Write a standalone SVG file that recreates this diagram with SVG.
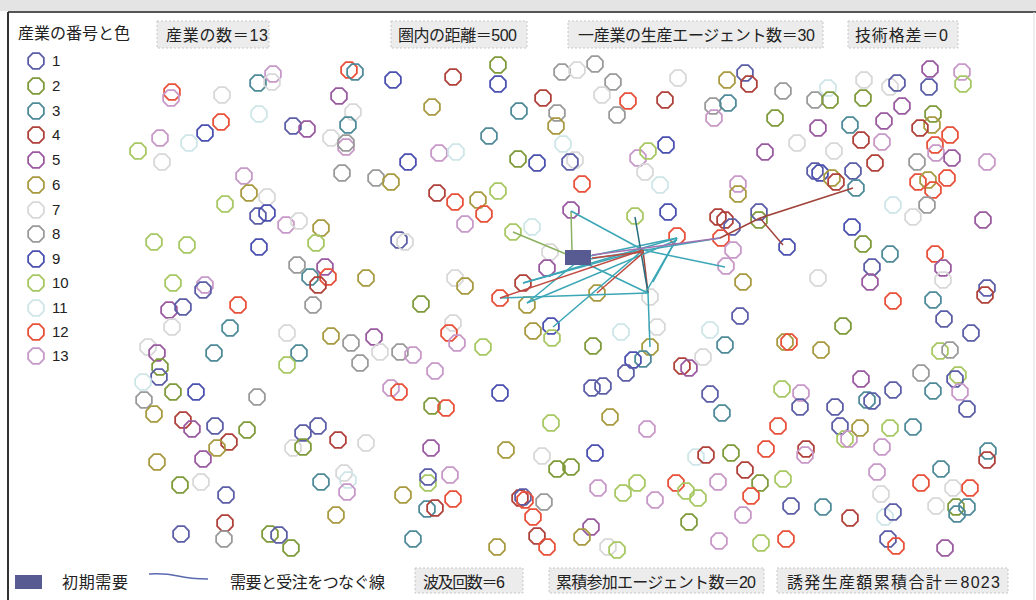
<svg xmlns="http://www.w3.org/2000/svg" width="1036" height="600" viewBox="0 0 1036 600">
<style>
text{font-family:"Liberation Sans","Noto Sans CJK JP",sans-serif;font-size:15px;fill:#222}
.lt{font-size:16px}
.lbl{fill:#ececec;stroke:#c8c8c8;stroke-dasharray:2 2}
use{fill:none;stroke-width:1.8}
.c1{stroke:#5b5ea6}.c2{stroke:#7f9a3a}.c3{stroke:#4f8a98}.c4{stroke:#b0403a}.c5{stroke:#9a5aa0}
.c6{stroke:#a89a40}.c7{stroke:#d8d8d8}.c8{stroke:#9a9a9a}.c9{stroke:#4a50b0}.c10{stroke:#a8c864}
.c11{stroke:#cfe6e8}.c12{stroke:#e8503a}.c13{stroke:#c898c8}
.t{stroke:#3aa6b6;stroke-width:1.5;fill:none}
.d{stroke:#2a6e7e;stroke-width:1.5;fill:none}
.r{stroke:#c04a40;stroke-width:1.5;fill:none}
.m{stroke:#a0443c;stroke-width:1.5;fill:none}
.g{stroke:#8ab060;stroke-width:1.5;fill:none}
</style>
<defs>
<path id="o" d="M-3.25,-7.85L3.25,-7.85L7.85,-3.25L7.85,3.25L3.25,7.85L-3.25,7.85L-7.85,3.25L-7.85,-3.25Z"/>
</defs>
<rect x="0" y="0" width="1036" height="600" fill="#fff"/>
<rect x="0" y="0" width="1036" height="11" fill="#e4e4e4"/>
<line x1="8" y1="12" x2="1036" y2="12" stroke="#555" stroke-width="2"/>
<line x1="8" y1="12" x2="8" y2="600" stroke="#333" stroke-width="2"/>
<line x1="1034" y1="12" x2="1034" y2="600" stroke="#ddd" stroke-width="1"/>

<g id="legend">
<text x="18" y="39" style="font-size:16px">産業の番号と色</text>
<use href="#o" x="36" y="61" class="c1"/><text x="52" y="66">1</text>
<use href="#o" x="36" y="86" class="c2"/><text x="52" y="91">2</text>
<use href="#o" x="36" y="111" class="c3"/><text x="52" y="116">3</text>
<use href="#o" x="36" y="135" class="c4"/><text x="52" y="140">4</text>
<use href="#o" x="36" y="160" class="c5"/><text x="52" y="165">5</text>
<use href="#o" x="36" y="185" class="c6"/><text x="52" y="190">6</text>
<use href="#o" x="36" y="210" class="c7"/><text x="52" y="215">7</text>
<use href="#o" x="36" y="234" class="c8"/><text x="52" y="239">8</text>
<use href="#o" x="36" y="259" class="c9"/><text x="52" y="264">9</text>
<use href="#o" x="36" y="283" class="c10"/><text x="52" y="288">10</text>
<use href="#o" x="36" y="308" class="c11"/><text x="52" y="313">11</text>
<use href="#o" x="36" y="332" class="c12"/><text x="52" y="337">12</text>
<use href="#o" x="36" y="356" class="c13"/><text x="52" y="361">13</text>
</g>

<g id="top-labels">
<rect class="lbl" x="157" y="21" width="112" height="27"/><text class="lt" x="166" y="41" textLength="102">産業の数＝13</text>
<rect class="lbl" x="391" y="21" width="136" height="27"/><text class="lt" x="398" y="41" textLength="119">圏内の距離＝500</text>
<rect class="lbl" x="568" y="21" width="255" height="27"/><text class="lt" x="578" y="41" textLength="237">一産業の生産エージェント数＝30</text>
<rect class="lbl" x="848" y="21" width="110" height="27"/><text class="lt" x="855" y="41" textLength="93">技術格差＝0</text>
</g>

<g id="bottom-labels">
<rect x="15" y="575" width="27" height="14" fill="#585a92"/>
<text class="lt" x="62" y="588" textLength="66">初期需要</text>
<path d="M149,574 Q165,573 178,576 T208,579" stroke="#5a6ab0" stroke-width="1.5" fill="none"/>
<text class="lt" x="230" y="588" textLength="155">需要と受注をつなぐ線</text>
<rect class="lbl" x="415" y="568" width="108" height="25"/><text class="lt" x="423" y="588" textLength="82">波及回数＝6</text>
<rect class="lbl" x="549" y="568" width="215" height="25"/><text class="lt" x="556" y="588" textLength="200">累積参加エージェント数＝20</text>
<rect class="lbl" x="777" y="568" width="231" height="25"/><text class="lt" x="787" y="588" textLength="213">誘発生産額累積合計＝8023</text>
</g>

<g id="agents">
<use href="#o" x="172" y="92" class="c12"/><use href="#o" x="171" y="98" class="c13"/><use href="#o" x="222" y="95" class="c7"/>
<use href="#o" x="258" y="83" class="c3"/><use href="#o" x="273" y="74" class="c13"/><use href="#o" x="272" y="82" class="c7"/>
<use href="#o" x="349" y="70" class="c12"/><use href="#o" x="355" y="72" class="c3"/><use href="#o" x="393" y="80" class="c9"/>
<use href="#o" x="339" y="96" class="c5"/><use href="#o" x="259" y="114" class="c11"/><use href="#o" x="353" y="112" class="c7"/>
<use href="#o" x="221" y="122" class="c12"/><use href="#o" x="205" y="133" class="c9"/><use href="#o" x="160" y="138" class="c13"/>
<use href="#o" x="189" y="143" class="c11"/><use href="#o" x="138" y="151" class="c10"/><use href="#o" x="162" y="162" class="c7"/>
<use href="#o" x="293" y="126" class="c1"/><use href="#o" x="307" y="129" class="c5"/><use href="#o" x="331" y="138" class="c7"/>
<use href="#o" x="348" y="125" class="c3"/><use href="#o" x="346" y="147" class="c13"/><use href="#o" x="346" y="143" class="c8"/>
<use href="#o" x="408" y="162" class="c9"/><use href="#o" x="342" y="173" class="c8"/><use href="#o" x="376" y="178" class="c8"/>
<use href="#o" x="391" y="182" class="c6"/><use href="#o" x="244" y="176" class="c13"/><use href="#o" x="249" y="193" class="c6"/>
<use href="#o" x="267" y="197" class="c7"/><use href="#o" x="225" y="204" class="c10"/><use href="#o" x="258" y="216" class="c1"/>
<use href="#o" x="267" y="213" class="c9"/><use href="#o" x="286" y="225" class="c13"/><use href="#o" x="299" y="221" class="c7"/>
<use href="#o" x="321" y="228" class="c6"/><use href="#o" x="316" y="243" class="c10"/><use href="#o" x="154" y="242" class="c10"/>
<use href="#o" x="187" y="245" class="c10"/><use href="#o" x="259" y="247" class="c9"/><use href="#o" x="399" y="240" class="c1"/>
<use href="#o" x="405" y="242" class="c7"/><use href="#o" x="297" y="265" class="c8"/><use href="#o" x="310" y="277" class="c3"/>
<use href="#o" x="325" y="267" class="c5"/><use href="#o" x="328" y="277" class="c12"/><use href="#o" x="318" y="285" class="c4"/>
<use href="#o" x="366" y="278" class="c6"/><use href="#o" x="173" y="283" class="c10"/><use href="#o" x="205" y="285" class="c13"/>
<use href="#o" x="203" y="290" class="c1"/><use href="#o" x="238" y="305" class="c12"/><use href="#o" x="313" y="305" class="c8"/>
<use href="#o" x="421" y="304" class="c2"/>

<use href="#o" x="498" y="65" class="c2"/><use href="#o" x="498" y="84" class="c9"/><use href="#o" x="453" y="77" class="c4"/>
<use href="#o" x="432" y="107" class="c6"/><use href="#o" x="562" y="72" class="c8"/><use href="#o" x="577" y="70" class="c7"/>
<use href="#o" x="595" y="64" class="c8"/><use href="#o" x="613" y="82" class="c8"/><use href="#o" x="602" y="95" class="c7"/>
<use href="#o" x="628" y="101" class="c12"/><use href="#o" x="617" y="115" class="c8"/><use href="#o" x="665" y="100" class="c4"/>
<use href="#o" x="678" y="78" class="c7"/><use href="#o" x="543" y="98" class="c4"/><use href="#o" x="519" y="111" class="c3"/>
<use href="#o" x="557" y="113" class="c8"/><use href="#o" x="556" y="126" class="c6"/><use href="#o" x="489" y="136" class="c3"/>
<use href="#o" x="563" y="144" class="c11"/><use href="#o" x="439" y="153" class="c13"/><use href="#o" x="456" y="152" class="c11"/>
<use href="#o" x="518" y="159" class="c2"/><use href="#o" x="537" y="163" class="c9"/><use href="#o" x="575" y="160" class="c7"/>
<use href="#o" x="570" y="162" class="c1"/><use href="#o" x="638" y="158" class="c13"/><use href="#o" x="648" y="151" class="c10"/>
<use href="#o" x="666" y="145" class="c9"/><use href="#o" x="645" y="172" class="c7"/><use href="#o" x="660" y="185" class="c11"/>
<use href="#o" x="582" y="184" class="c12"/><use href="#o" x="437" y="193" class="c4"/><use href="#o" x="455" y="202" class="c12"/>
<use href="#o" x="478" y="200" class="c6"/><use href="#o" x="498" y="191" class="c10"/><use href="#o" x="484" y="214" class="c12"/>
<use href="#o" x="465" y="224" class="c13"/><use href="#o" x="571" y="210" class="c5"/><use href="#o" x="635" y="216" class="c10"/>
<use href="#o" x="668" y="212" class="c9"/><use href="#o" x="718" y="217" class="c4"/><use href="#o" x="677" y="236" class="c12"/>
<use href="#o" x="513" y="232" class="c10"/><use href="#o" x="532" y="227" class="c11"/><use href="#o" x="550" y="252" class="c7"/>
<use href="#o" x="547" y="268" class="c5"/><use href="#o" x="523" y="283" class="c4"/><use href="#o" x="455" y="278" class="c7"/>
<use href="#o" x="465" y="286" class="c6"/><use href="#o" x="500" y="298" class="c12"/><use href="#o" x="597" y="293" class="c6"/>
<use href="#o" x="650" y="297" class="c7"/><use href="#o" x="713" y="106" class="c8"/><use href="#o" x="714" y="118" class="c13"/>

<use href="#o" x="727" y="80" class="c6"/><use href="#o" x="745" y="73" class="c1"/><use href="#o" x="749" y="84" class="c4"/>
<use href="#o" x="728" y="103" class="c3"/><use href="#o" x="783" y="91" class="c8"/><use href="#o" x="815" y="100" class="c8"/>
<use href="#o" x="828" y="88" class="c11"/><use href="#o" x="830" y="100" class="c2"/><use href="#o" x="864" y="80" class="c7"/>
<use href="#o" x="863" y="98" class="c2"/><use href="#o" x="890" y="87" class="c7"/><use href="#o" x="897" y="83" class="c1"/>
<use href="#o" x="930" y="69" class="c5"/><use href="#o" x="929" y="87" class="c1"/><use href="#o" x="962" y="72" class="c13"/>
<use href="#o" x="963" y="84" class="c10"/><use href="#o" x="902" y="106" class="c5"/><use href="#o" x="775" y="118" class="c2"/>
<use href="#o" x="818" y="128" class="c5"/><use href="#o" x="850" y="125" class="c3"/><use href="#o" x="884" y="121" class="c5"/>
<use href="#o" x="933" y="114" class="c2"/><use href="#o" x="932" y="125" class="c6"/><use href="#o" x="920" y="128" class="c4"/>
<use href="#o" x="950" y="135" class="c12"/><use href="#o" x="861" y="140" class="c4"/><use href="#o" x="882" y="142" class="c13"/>
<use href="#o" x="935" y="145" class="c12"/><use href="#o" x="936" y="153" class="c13"/><use href="#o" x="952" y="158" class="c5"/>
<use href="#o" x="917" y="162" class="c8"/><use href="#o" x="987" y="162" class="c13"/><use href="#o" x="765" y="152" class="c5"/>
<use href="#o" x="797" y="143" class="c7"/><use href="#o" x="834" y="151" class="c7"/><use href="#o" x="875" y="163" class="c4"/>
<use href="#o" x="815" y="171" class="c1"/><use href="#o" x="820" y="173" class="c9"/><use href="#o" x="853" y="171" class="c1"/>
<use href="#o" x="832" y="178" class="c6"/><use href="#o" x="836" y="182" class="c4"/><use href="#o" x="856" y="188" class="c3"/>
<use href="#o" x="918" y="182" class="c12"/><use href="#o" x="928" y="180" class="c6"/><use href="#o" x="947" y="178" class="c12"/>
<use href="#o" x="933" y="190" class="c12"/><use href="#o" x="927" y="205" class="c8"/><use href="#o" x="893" y="205" class="c11"/>
<use href="#o" x="913" y="217" class="c7"/><use href="#o" x="983" y="220" class="c5"/><use href="#o" x="738" y="184" class="c13"/>
<use href="#o" x="738" y="194" class="c6"/><use href="#o" x="759" y="220" class="c2"/><use href="#o" x="759" y="212" class="c1"/>
<use href="#o" x="725" y="220" class="c4"/><use href="#o" x="732" y="227" class="c1"/><use href="#o" x="721" y="238" class="c12"/>
<use href="#o" x="733" y="250" class="c13"/><use href="#o" x="726" y="266" class="c13"/><use href="#o" x="787" y="247" class="c9"/>
<use href="#o" x="852" y="227" class="c9"/><use href="#o" x="863" y="244" class="c2"/><use href="#o" x="890" y="254" class="c3"/>
<use href="#o" x="872" y="267" class="c1"/><use href="#o" x="870" y="282" class="c5"/><use href="#o" x="935" y="254" class="c12"/>
<use href="#o" x="943" y="268" class="c5"/><use href="#o" x="943" y="280" class="c7"/><use href="#o" x="818" y="278" class="c7"/>
<use href="#o" x="743" y="282" class="c6"/><use href="#o" x="987" y="288" class="c1"/><use href="#o" x="985" y="295" class="c4"/>
<use href="#o" x="893" y="301" class="c12"/><use href="#o" x="933" y="300" class="c3"/>

<use href="#o" x="169" y="310" class="c5"/><use href="#o" x="183" y="307" class="c1"/><use href="#o" x="172" y="327" class="c7"/>
<use href="#o" x="230" y="328" class="c3"/><use href="#o" x="287" y="333" class="c7"/><use href="#o" x="331" y="336" class="c6"/>
<use href="#o" x="351" y="343" class="c8"/><use href="#o" x="374" y="337" class="c5"/><use href="#o" x="400" y="352" class="c8"/>
<use href="#o" x="413" y="355" class="c13"/><use href="#o" x="380" y="352" class="c7"/><use href="#o" x="360" y="363" class="c8"/>
<use href="#o" x="148" y="347" class="c7"/><use href="#o" x="157" y="353" class="c5"/><use href="#o" x="214" y="353" class="c3"/>
<use href="#o" x="299" y="353" class="c3"/><use href="#o" x="287" y="365" class="c10"/><use href="#o" x="160" y="367" class="c2"/>
<use href="#o" x="159" y="377" class="c1"/><use href="#o" x="143" y="382" class="c11"/><use href="#o" x="173" y="392" class="c2"/>
<use href="#o" x="196" y="392" class="c9"/><use href="#o" x="144" y="400" class="c8"/><use href="#o" x="257" y="397" class="c8"/>
<use href="#o" x="391" y="388" class="c13"/><use href="#o" x="399" y="392" class="c12"/><use href="#o" x="154" y="414" class="c6"/>
<use href="#o" x="183" y="420" class="c4"/><use href="#o" x="192" y="429" class="c5"/><use href="#o" x="215" y="426" class="c1"/>
<use href="#o" x="247" y="430" class="c2"/><use href="#o" x="229" y="442" class="c4"/><use href="#o" x="217" y="448" class="c6"/>
<use href="#o" x="203" y="459" class="c5"/><use href="#o" x="303" y="433" class="c1"/><use href="#o" x="318" y="426" class="c1"/>
<use href="#o" x="293" y="448" class="c7"/><use href="#o" x="303" y="447" class="c2"/><use href="#o" x="338" y="440" class="c4"/>
<use href="#o" x="366" y="443" class="c7"/><use href="#o" x="157" y="462" class="c6"/><use href="#o" x="180" y="485" class="c2"/>
<use href="#o" x="201" y="482" class="c7"/><use href="#o" x="226" y="495" class="c1"/><use href="#o" x="321" y="482" class="c3"/>
<use href="#o" x="344" y="473" class="c7"/><use href="#o" x="348" y="480" class="c11"/><use href="#o" x="347" y="492" class="c13"/>
<use href="#o" x="403" y="495" class="c6"/><use href="#o" x="336" y="515" class="c6"/><use href="#o" x="225" y="523" class="c4"/>
<use href="#o" x="181" y="534" class="c1"/><use href="#o" x="224" y="539" class="c8"/><use href="#o" x="270" y="534" class="c2"/>
<use href="#o" x="279" y="535" class="c1"/><use href="#o" x="291" y="548" class="c2"/><use href="#o" x="413" y="539" class="c3"/>

<use href="#o" x="527" y="305" class="c6"/><use href="#o" x="533" y="331" class="c6"/><use href="#o" x="551" y="326" class="c9"/>
<use href="#o" x="552" y="338" class="c10"/><use href="#o" x="453" y="323" class="c7"/><use href="#o" x="449" y="333" class="c12"/>
<use href="#o" x="457" y="343" class="c13"/><use href="#o" x="483" y="347" class="c10"/><use href="#o" x="593" y="346" class="c2"/>
<use href="#o" x="621" y="332" class="c11"/><use href="#o" x="657" y="327" class="c7"/><use href="#o" x="710" y="330" class="c11"/>
<use href="#o" x="650" y="347" class="c6"/><use href="#o" x="643" y="359" class="c3"/><use href="#o" x="633" y="360" class="c9"/>
<use href="#o" x="626" y="373" class="c1"/><use href="#o" x="682" y="366" class="c4"/><use href="#o" x="689" y="368" class="c5"/>
<use href="#o" x="703" y="357" class="c7"/><use href="#o" x="435" y="371" class="c13"/><use href="#o" x="500" y="393" class="c9"/>
<use href="#o" x="592" y="388" class="c1"/><use href="#o" x="603" y="386" class="c1"/><use href="#o" x="710" y="394" class="c1"/>
<use href="#o" x="722" y="413" class="c3"/><use href="#o" x="432" y="406" class="c2"/><use href="#o" x="446" y="408" class="c12"/>
<use href="#o" x="551" y="423" class="c10"/><use href="#o" x="610" y="417" class="c6"/><use href="#o" x="647" y="429" class="c13"/>
<use href="#o" x="431" y="448" class="c5"/><use href="#o" x="506" y="450" class="c6"/><use href="#o" x="542" y="456" class="c7"/>
<use href="#o" x="595" y="453" class="c9"/><use href="#o" x="557" y="469" class="c2"/><use href="#o" x="571" y="467" class="c2"/>
<use href="#o" x="696" y="457" class="c11"/><use href="#o" x="706" y="455" class="c4"/><use href="#o" x="428" y="483" class="c10"/>
<use href="#o" x="428" y="477" class="c1"/><use href="#o" x="450" y="475" class="c13"/><use href="#o" x="598" y="488" class="c13"/>
<use href="#o" x="623" y="493" class="c10"/><use href="#o" x="637" y="483" class="c10"/><use href="#o" x="676" y="483" class="c12"/>
<use href="#o" x="686" y="491" class="c10"/><use href="#o" x="698" y="498" class="c10"/><use href="#o" x="655" y="500" class="c13"/>
<use href="#o" x="718" y="482" class="c13"/><use href="#o" x="453" y="499" class="c12"/><use href="#o" x="427" y="509" class="c3"/>
<use href="#o" x="435" y="508" class="c4"/><use href="#o" x="520" y="498" class="c4"/><use href="#o" x="523" y="497" class="c1"/>
<use href="#o" x="525" y="500" class="c12"/><use href="#o" x="544" y="502" class="c8"/><use href="#o" x="533" y="517" class="c12"/>
<use href="#o" x="689" y="522" class="c2"/><use href="#o" x="719" y="541" class="c13"/><use href="#o" x="591" y="527" class="c5"/>
<use href="#o" x="582" y="537" class="c6"/><use href="#o" x="537" y="536" class="c4"/><use href="#o" x="547" y="547" class="c12"/>
<use href="#o" x="497" y="547" class="c6"/><use href="#o" x="608" y="547" class="c7"/><use href="#o" x="617" y="550" class="c10"/>

<use href="#o" x="740" y="316" class="c1"/><use href="#o" x="843" y="326" class="c2"/><use href="#o" x="944" y="319" class="c1"/>
<use href="#o" x="971" y="333" class="c1"/><use href="#o" x="785" y="342" class="c6"/><use href="#o" x="789" y="342" class="c12"/>
<use href="#o" x="821" y="350" class="c6"/><use href="#o" x="940" y="351" class="c10"/><use href="#o" x="950" y="350" class="c8"/>
<use href="#o" x="861" y="379" class="c5"/><use href="#o" x="921" y="373" class="c8"/><use href="#o" x="958" y="375" class="c10"/>
<use href="#o" x="955" y="379" class="c1"/><use href="#o" x="960" y="392" class="c13"/><use href="#o" x="933" y="391" class="c3"/>
<use href="#o" x="893" y="390" class="c1"/><use href="#o" x="782" y="389" class="c10"/><use href="#o" x="801" y="393" class="c13"/>
<use href="#o" x="800" y="407" class="c1"/><use href="#o" x="835" y="407" class="c1"/><use href="#o" x="867" y="400" class="c3"/>
<use href="#o" x="872" y="401" class="c1"/><use href="#o" x="967" y="409" class="c1"/><use href="#o" x="725" y="345" class="c3"/>
<use href="#o" x="778" y="426" class="c12"/><use href="#o" x="840" y="426" class="c1"/><use href="#o" x="845" y="439" class="c10"/>
<use href="#o" x="849" y="439" class="c13"/><use href="#o" x="860" y="428" class="c6"/><use href="#o" x="890" y="428" class="c10"/>
<use href="#o" x="913" y="427" class="c3"/><use href="#o" x="766" y="449" class="c12"/><use href="#o" x="806" y="449" class="c4"/>
<use href="#o" x="805" y="455" class="c13"/><use href="#o" x="731" y="453" class="c2"/><use href="#o" x="882" y="447" class="c13"/>
<use href="#o" x="988" y="451" class="c3"/><use href="#o" x="987" y="460" class="c4"/><use href="#o" x="745" y="470" class="c4"/>
<use href="#o" x="877" y="472" class="c13"/><use href="#o" x="941" y="469" class="c3"/><use href="#o" x="760" y="483" class="c2"/>
<use href="#o" x="783" y="479" class="c10"/><use href="#o" x="751" y="496" class="c12"/><use href="#o" x="921" y="483" class="c12"/>
<use href="#o" x="953" y="488" class="c7"/><use href="#o" x="970" y="488" class="c12"/><use href="#o" x="881" y="494" class="c7"/>
<use href="#o" x="791" y="506" class="c1"/><use href="#o" x="823" y="507" class="c3"/><use href="#o" x="936" y="506" class="c7"/>
<use href="#o" x="956" y="507" class="c2"/><use href="#o" x="957" y="514" class="c3"/><use href="#o" x="967" y="507" class="c3"/>
<use href="#o" x="850" y="518" class="c4"/><use href="#o" x="885" y="517" class="c11"/><use href="#o" x="893" y="512" class="c1"/>
<use href="#o" x="743" y="515" class="c13"/><use href="#o" x="761" y="543" class="c10"/><use href="#o" x="786" y="539" class="c12"/>
<use href="#o" x="888" y="539" class="c1"/><use href="#o" x="896" y="546" class="c12"/><use href="#o" x="945" y="548" class="c5"/>
</g>

<g id="connectors">
<line class="g" x1="571" y1="211" x2="572" y2="252"/>
<line class="t" x1="571" y1="211" x2="643" y2="250"/>
<line class="g" x1="513" y1="232" x2="566" y2="254"/>
<line class="t" x1="590" y1="256" x2="677" y2="238"/>
<line class="t" x1="590" y1="259" x2="720" y2="238"/>
<line class="t" x1="643" y1="250" x2="725" y2="267"/>
<line class="t" x1="523" y1="283" x2="643" y2="250"/>
<line class="t" x1="527" y1="303" x2="577" y2="262"/>
<line class="t" x1="500" y1="298" x2="648" y2="293"/>
<line class="m" x1="643" y1="250" x2="648" y2="293"/>
<line class="d" x1="635" y1="217" x2="648" y2="293"/>
<line class="t" x1="648" y1="293" x2="650" y2="347"/>
<line class="t" x1="553" y1="327" x2="643" y2="250"/>
<line class="t" x1="585" y1="263" x2="648" y2="293"/>
<line class="t" x1="523" y1="283" x2="677" y2="238"/>
<line class="t" x1="527" y1="303" x2="677" y2="240"/>
<line class="t" x1="677" y1="238" x2="653" y2="282"/>
<line class="t" x1="677" y1="238" x2="646" y2="292"/>
<line class="r" x1="500" y1="298" x2="643" y2="250"/>
<line class="r" x1="592" y1="258" x2="643" y2="252"/>
<line class="r" x1="597" y1="293" x2="643" y2="253"/>
<line stroke="#a070b0" stroke-width="1.5" x1="592" y1="255" x2="720" y2="238"/>
<line class="m" x1="720" y1="238" x2="760" y2="218"/>
<line class="m" x1="760" y1="218" x2="853" y2="188"/>
<line class="m" x1="760" y1="218" x2="783" y2="245"/>
<rect x="565" y="250" width="26" height="15" fill="#585a92"/>
</g>
</svg>
